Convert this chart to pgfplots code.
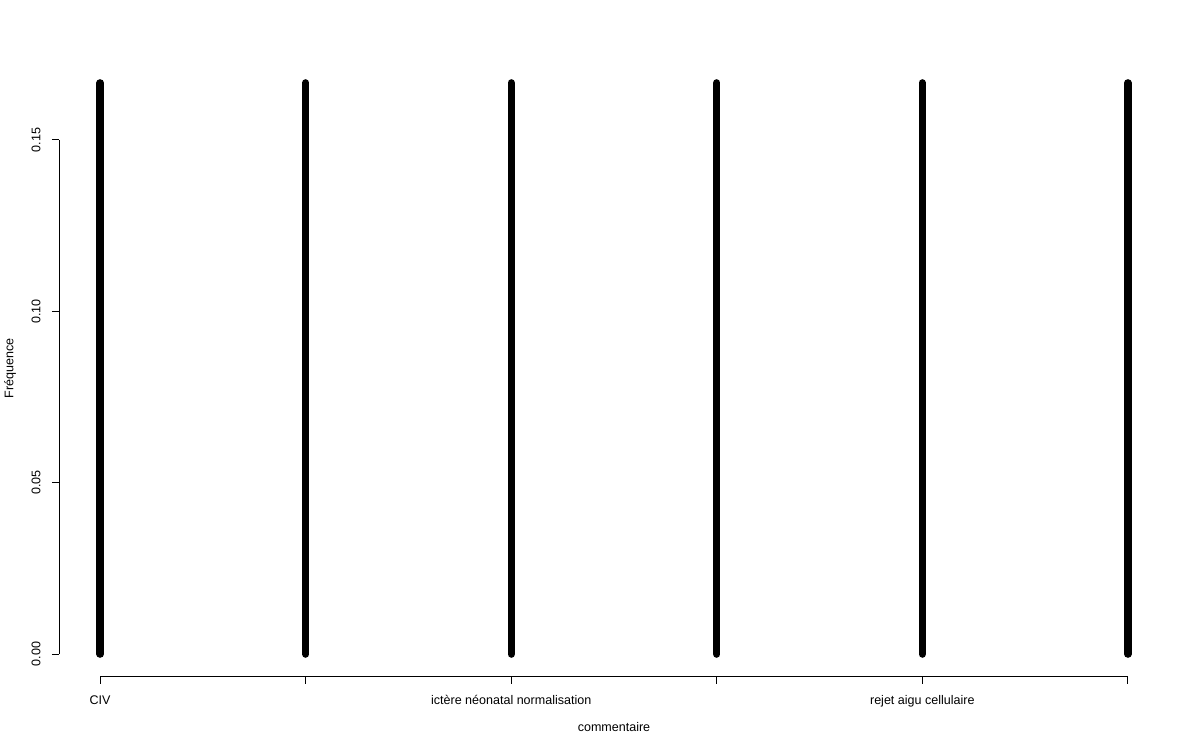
\documentclass[border=0pt]{standalone}
\usepackage{fontspec}
\setmainfont{Liberation Sans}
\usepackage{pgfplots}
\pgfplotsset{compat=1.18}
\begin{document}
\begin{tikzpicture}[x=1pt,y=1pt]
\useasboundingbox (0,0) rectangle (900,562.5);
\begin{axis}[
  at={(44.25pt,54.75pt)}, anchor=south west,
  scale only axis, width=832.5pt, height=462.75pt,
  xmin=0.8, xmax=6.2, ymin=-0.006667, ymax=0.173333,
  axis x line*=bottom, axis y line*=left,
  axis line style={draw=none},
  xtick={1,2,3,4,5,6},
  xticklabels={CIV,,ictère néonatal normalisation,,rejet aigu cellulaire,},
  ytick={0,0.05,0.1,0.15},
  yticklabels={0.00,0.05,0.10,0.15},
  tick align=outside, major tick length=5.25pt,
  tick style={black, line width=0.75pt},
  xticklabel style={font=\fontsize{9.4pt}{11pt}\selectfont, yshift=-5pt},
  yticklabel style={rotate=90, anchor=south, yshift=5pt, font=\fontsize{9.4pt}{11pt}\selectfont},
  xlabel={commentaire}, ylabel={Fréquence},
  xlabel style={at={(axis description cs:0.5,0)}, anchor=center, yshift=-37.5pt, font=\fontsize{9.4pt}{11pt}\selectfont},
  ylabel style={at={(axis description cs:0,0.5)}, anchor=center, yshift=36.75pt, font=\fontsize{9.4pt}{11pt}\selectfont},
  clip=false,
]
\addplot[ycomb, black, line width=5.5pt, line cap=round, mark=none] coordinates {
  (1,0.166667) (2,0.166667) (3,0.166667) (4,0.166667) (5,0.166667) (6,0.166667)
};
\draw[line width=0.75pt, black] (axis cs:1,-0.006667) -- (axis cs:6,-0.006667);
\draw[line width=0.75pt, black] (axis cs:0.8,0) -- (axis cs:0.8,0.15);
\end{axis}
\end{tikzpicture}
\end{document}
